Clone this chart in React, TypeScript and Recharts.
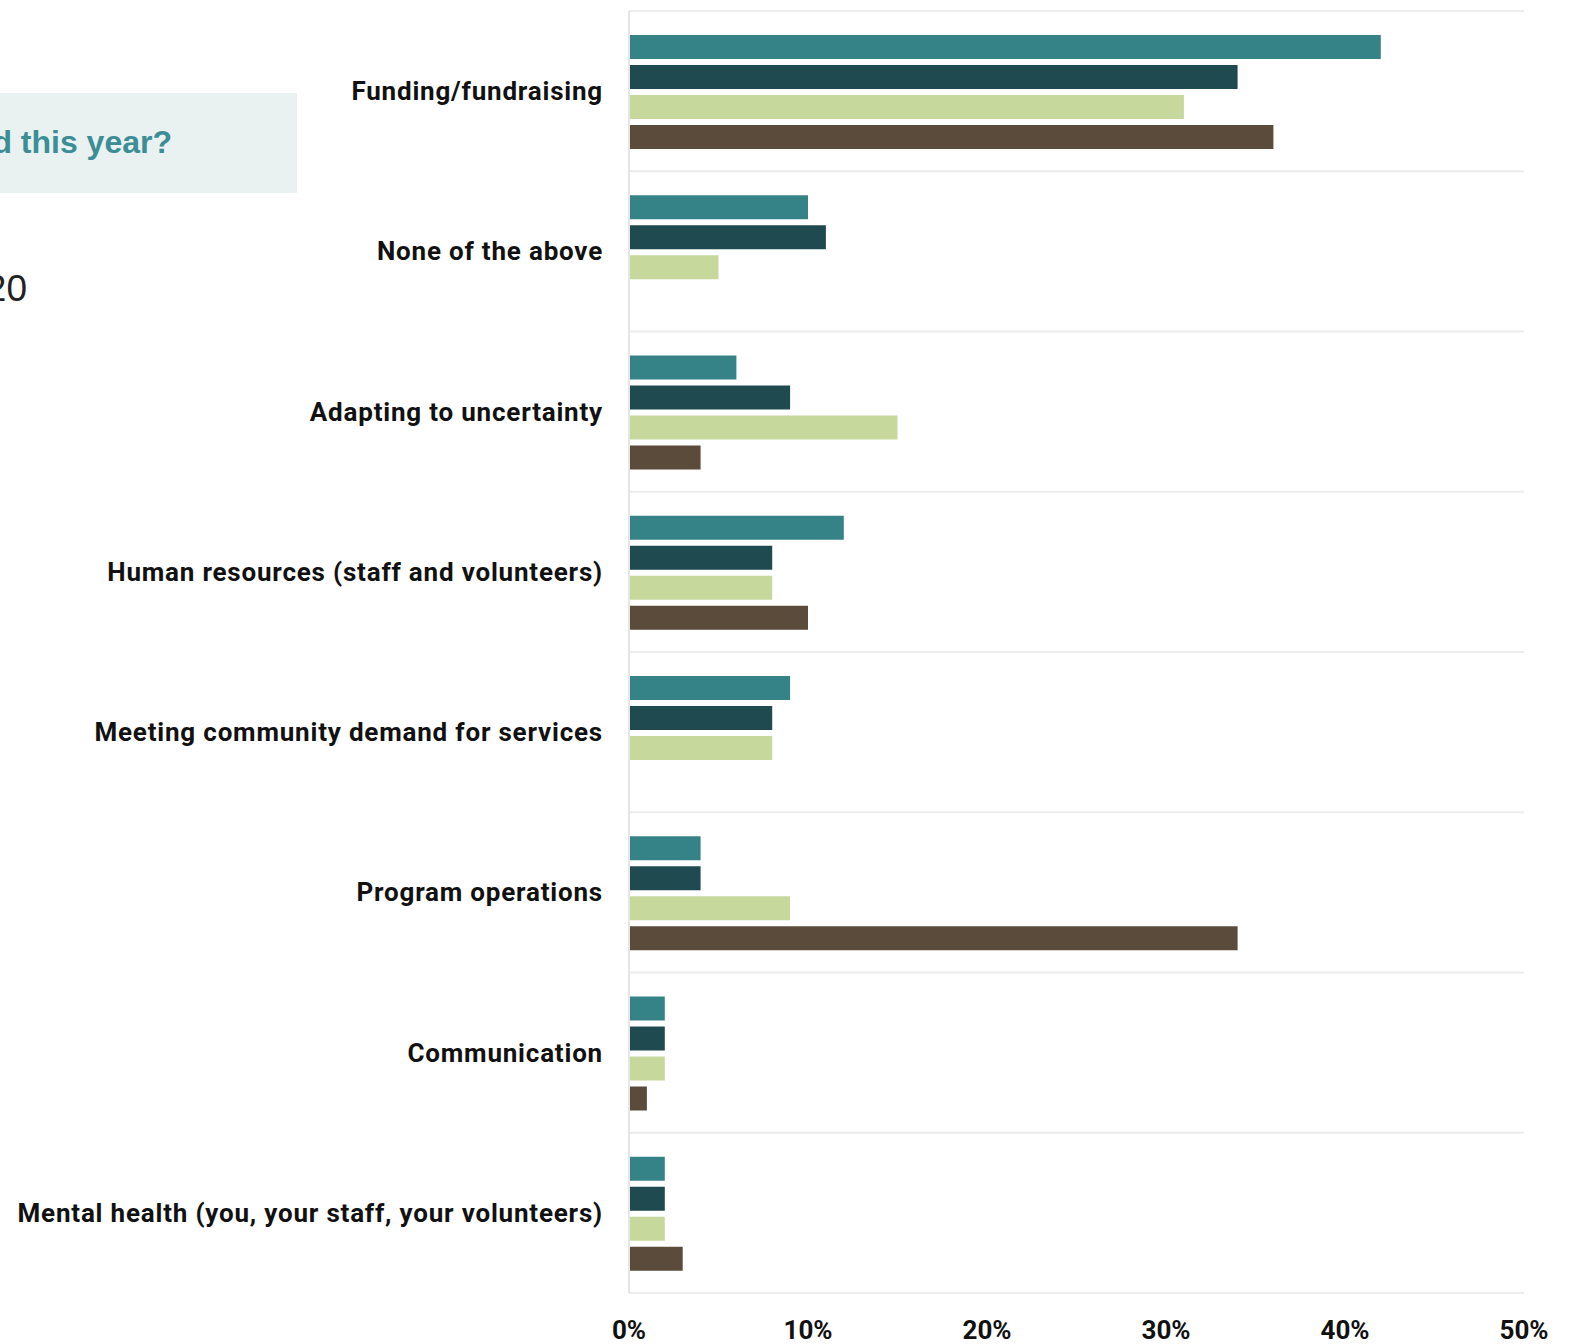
import React from "react";
import { BarChart, Bar, XAxis, YAxis, CartesianGrid } from "recharts";

const categories = [
	"Funding/fundraising",
	"None of the above",
	"Adapting to uncertainty",
	"Human resources (staff and volunteers)",
	"Meeting community demand for services",
	"Program operations",
	"Communication",
	"Mental health (you, your staff, your volunteers)",
];

const seriesA = [42, 10, 6, 12, 9, 4, 2, 2];
const seriesB = [34, 11, 9, 8, 8, 4, 2, 2];
const seriesC = [31, 5, 15, 8, 8, 9, 2, 2];
const seriesD = [36, 0, 4, 10, 0, 34, 1, 3];

const xTicks = [0, 10, 20, 30, 40, 50];

const colors = ["#368387", "#1f4a50", "#c6d89c", "#5b4b3b"];

const data = categories.map((name, i) => ({
	name,
	a: seriesA[i],
	b: seriesB[i],
	c: seriesC[i],
	d: seriesD[i],
}));

const labelFont = "Roboto, 'DejaVu Sans', sans-serif";

const CategoryTick = (props: any) => {
	const { x, y, payload } = props;
	return (
		<text
			x={x + 7}
			y={y}
			textAnchor="end"
			dominantBaseline="central"
			fontFamily={labelFont}
			fontWeight={700}
			fontSize={26}
			letterSpacing={0.8}
			fill="#111"
		>
			{payload.value}
		</text>
	);
};

const PercentTick = (props: any) => {
	const { x, y, payload } = props;
	return (
		<text
			x={x}
			y={y}
			dy={38}
			textAnchor="middle"
			fontFamily={labelFont}
			fontWeight={700}
			fontSize={26}
			fill="#111"
		>
			{payload.value + "%"}
		</text>
	);
};

const gridLines = ({ offset }: any) =>
	Array.from({ length: categories.length + 1 }, (_, i) => offset.top + (i * offset.height) / categories.length);

export default function App() {
	return (
		<div style={{ position: "absolute", left: 0, top: 0, width: 1580, height: 1344, overflow: "hidden", background: "#fff" }}>
			<div style={{ position: "absolute", left: 0, top: 93, width: 297, height: 100, background: "#e9f2f1" }} />
			<div
				style={{
					position: "absolute",
					right: 1580 - 172,
					top: 124,
					whiteSpace: "nowrap",
					fontFamily: "'Liberation Sans', Arial, sans-serif",
					fontWeight: 700,
					fontSize: 32,
					color: "#3b8d96",
				}}
			>
				d this year?
			</div>
			<div
				style={{
					position: "absolute",
					right: 1580 - 27,
					top: 268,
					whiteSpace: "nowrap",
					fontFamily: "'Liberation Sans', Arial, sans-serif",
					fontSize: 37,
					color: "#222",
				}}
			>
				20
			</div>
			<div style={{ position: "absolute", left: 0, top: 0 }}>
				<BarChart
					width={1580}
					height={1344}
					data={data}
					layout="vertical"
					margin={{ top: 11, right: 56, bottom: 0, left: 0 }}
					barCategoryGap={24}
					barGap={6}
				>
					<CartesianGrid
						vertical={false}
						stroke="#ececec"
						strokeWidth={2}
						horizontalCoordinatesGenerator={gridLines}
					/>
					<XAxis
						type="number"
						domain={[0, 50]}
						ticks={xTicks}
						height={51}
						axisLine={false}
						tickLine={false}
						tick={<PercentTick />}
					/>
					<YAxis
						type="category"
						dataKey="name"
						width={629}
						axisLine={{ stroke: "#e6e6e6", strokeWidth: 2 }}
						tickLine={false}
						tickMargin={27}
						tick={<CategoryTick />}
					/>
					<Bar dataKey="a" fill={colors[0]} isAnimationActive={false} />
					<Bar dataKey="b" fill={colors[1]} isAnimationActive={false} />
					<Bar dataKey="c" fill={colors[2]} isAnimationActive={false} />
					<Bar dataKey="d" fill={colors[3]} isAnimationActive={false} />
				</BarChart>
			</div>
		</div>
	);
}
